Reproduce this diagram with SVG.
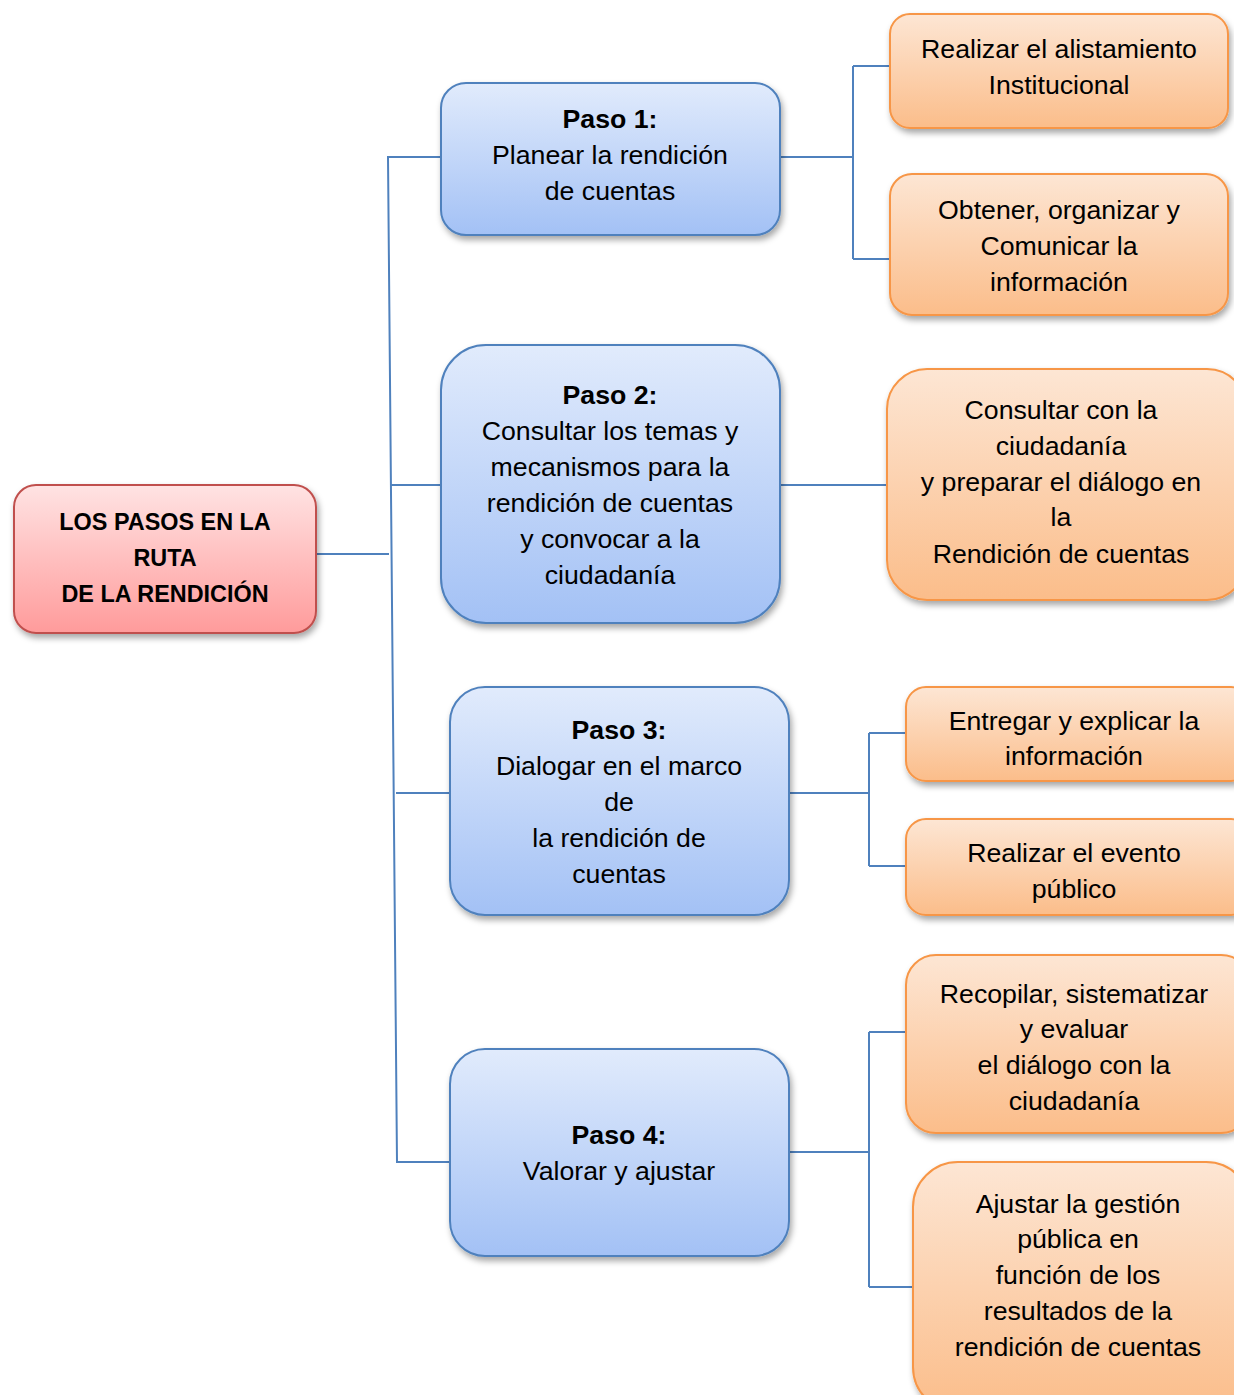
<svg xmlns="http://www.w3.org/2000/svg" width="1234" height="1395" viewBox="0 0 1234 1395">
<style>
text{font-family:"Liberation Sans",Arial,sans-serif;font-size:26.7px;fill:#000;text-anchor:middle}
.b{font-weight:bold}
.root text{font-size:23.4px;font-weight:bold}
.blue rect{fill:url(#gBlue);stroke:#4f81bd;stroke-width:2;filter:url(#sh)}
.orange rect{fill:url(#gOr);stroke:#f79646;stroke-width:2;filter:url(#sh)}
.root rect{fill:url(#gRed);stroke:#c0504d;stroke-width:2;filter:url(#sh)}
#connectors path{fill:none;stroke:#4f81bd;stroke-width:2}
</style>
<defs>
<linearGradient id="gBlue" x1="0" y1="0" x2="0" y2="1"><stop offset="0" stop-color="#e1ebfc"/><stop offset="1" stop-color="#a3c1f5"/></linearGradient>
<linearGradient id="gOr" x1="0" y1="0" x2="0" y2="1"><stop offset="0" stop-color="#fde6d4"/><stop offset="1" stop-color="#fbbd8a"/></linearGradient>
<linearGradient id="gRed" x1="0" y1="0" x2="0" y2="1"><stop offset="0" stop-color="#ffe3e3"/><stop offset="1" stop-color="#ff9b9b"/></linearGradient>
<filter id="sh" x="-10%" y="-10%" width="125%" height="130%"><feDropShadow dx="2" dy="4" stdDeviation="3" flood-color="#000" flood-opacity="0.35"/></filter>
</defs>
<g id="connectors">
<path d="M316 554 H389"/>
<path d="M441 157 H388 L397 1162 H450"/>
<path d="M391 485 H441"/>
<path d="M396 793 H450"/>
<path d="M780 157 H853 M853 66 V259 M853 66 H890 M853 259 H890"/>
<path d="M780 485 H890"/>
<path d="M789 793 H869 M869 733 V866 M869 733 H906 M869 866 H906"/>
<path d="M789 1152 H869 M869 1032 V1287 M869 1032 H906 M869 1287 H913"/>
</g>
<g id="root" class="root">
<rect x="14" y="485" width="302" height="148" rx="22"/>
<text x="165" y="530">LOS PASOS EN LA</text>
<text x="165" y="566">RUTA</text>
<text x="165" y="602">DE LA RENDICIÓN</text>
</g>
<g id="paso1" class="blue">
<rect x="441" y="83" width="339" height="152" rx="25"/>
<text x="610" y="128" class="b">Paso 1:</text>
<text x="610" y="164">Planear la rendición</text>
<text x="610" y="200">de cuentas</text>
</g>
<g id="paso2" class="blue">
<rect x="441" y="345" width="339" height="278" rx="45"/>
<text x="610" y="404" class="b">Paso 2:</text>
<text x="610" y="440">Consultar los temas y</text>
<text x="610" y="476">mecanismos para la</text>
<text x="610" y="512">rendición de cuentas</text>
<text x="610" y="548">y convocar a la</text>
<text x="610" y="584">ciudadanía</text>
</g>
<g id="paso3" class="blue">
<rect x="450" y="687" width="339" height="228" rx="35"/>
<text x="619" y="739" class="b">Paso 3:</text>
<text x="619" y="775">Dialogar en el marco</text>
<text x="619" y="811">de</text>
<text x="619" y="847">la rendición de</text>
<text x="619" y="883">cuentas</text>
</g>
<g id="paso4" class="blue">
<rect x="450" y="1049" width="339" height="207" rx="35"/>
<text x="619" y="1144" class="b">Paso 4:</text>
<text x="619" y="1180">Valorar y ajustar</text>
</g>
<g id="o1" class="orange">
<rect x="890" y="14" width="338" height="114" rx="20"/>
<text x="1059" y="58">Realizar el alistamiento</text>
<text x="1059" y="94">Institucional</text>
</g>
<g id="o2" class="orange">
<rect x="890" y="174" width="338" height="141" rx="22"/>
<text x="1059" y="219">Obtener, organizar y</text>
<text x="1059" y="255">Comunicar la</text>
<text x="1059" y="291">información</text>
</g>
<g id="o3" class="orange">
<rect x="887" y="369" width="360" height="231" rx="40"/>
<text x="1061" y="419">Consultar con la</text>
<text x="1061" y="455">ciudadanía</text>
<text x="1061" y="491">y preparar el diálogo en</text>
<text x="1061" y="526">la</text>
<text x="1061" y="563">Rendición de cuentas</text>
</g>
<g id="o4" class="orange">
<rect x="906" y="687" width="345" height="94" rx="20"/>
<text x="1074" y="730">Entregar y explicar la</text>
<text x="1074" y="765">información</text>
</g>
<g id="o5" class="orange">
<rect x="906" y="819" width="345" height="96" rx="20"/>
<text x="1074" y="862">Realizar el evento</text>
<text x="1074" y="898">público</text>
</g>
<g id="o6" class="orange">
<rect x="906" y="955" width="345" height="178" rx="30"/>
<text x="1074" y="1003">Recopilar, sistematizar</text>
<text x="1074" y="1038">y evaluar</text>
<text x="1074" y="1074">el diálogo con la</text>
<text x="1074" y="1110">ciudadanía</text>
</g>
<g id="o7" class="orange">
<rect x="913" y="1162" width="338" height="250" rx="45"/>
<text x="1078" y="1213">Ajustar la gestión</text>
<text x="1078" y="1248">pública en</text>
<text x="1078" y="1284">función de los</text>
<text x="1078" y="1320">resultados de la</text>
<text x="1078" y="1356">rendición de cuentas</text>
</g>
</svg>
